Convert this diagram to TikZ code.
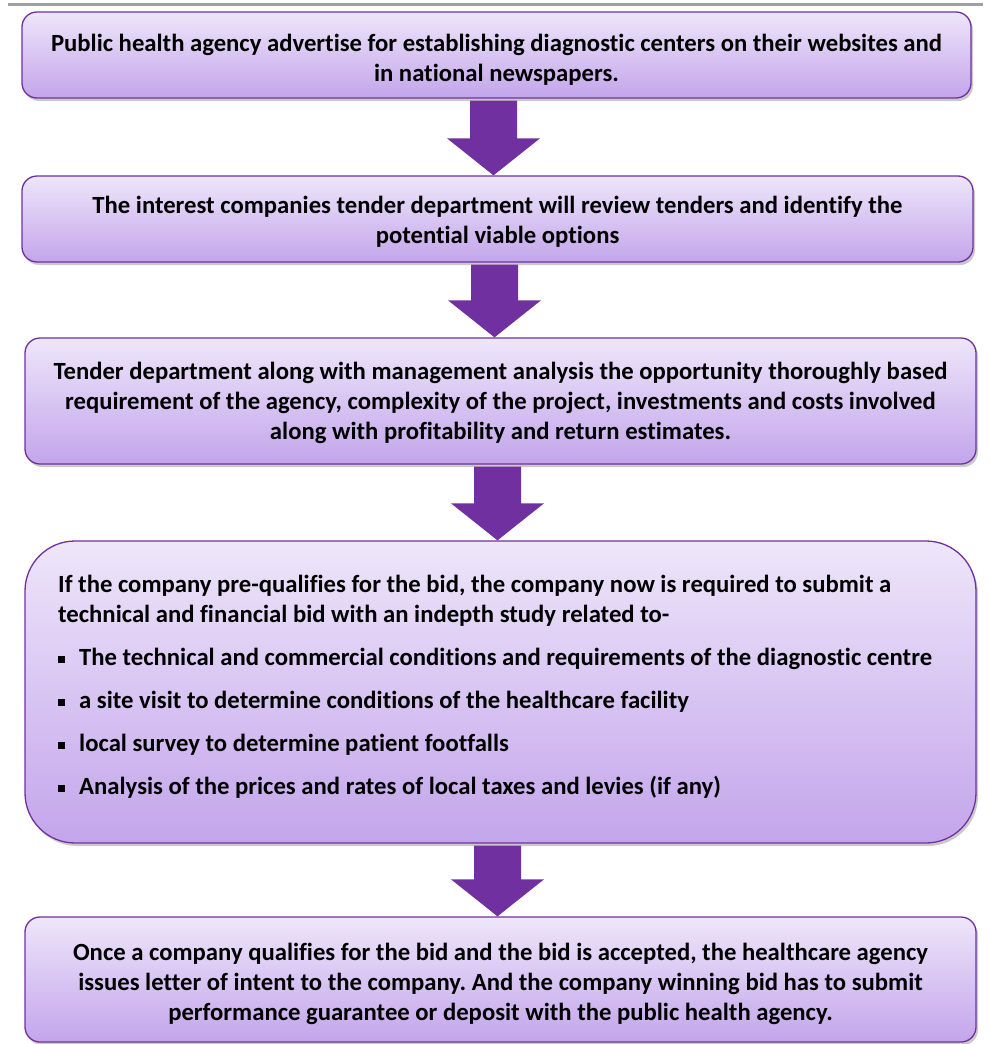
\documentclass[tikz,border=0pt]{standalone}
\usepackage{fontspec}
\setmainfont{Carlito}[Ligatures=NoCommon]
\usetikzlibrary{shadows,calc}
\frenchspacing
\definecolor{purpleline}{HTML}{7030A0}
\definecolor{boxtop}{HTML}{EEE6FA}
\definecolor{boxbot}{HTML}{C3A5EB}
\definecolor{rulegray}{HTML}{A0A0A0}
\tikzset{
  flowbox/.style={draw=purpleline, line width=1.3pt, rounded corners=15pt,
    top color=boxtop, bottom color=boxbot,
    drop shadow={shadow xshift=2pt, shadow yshift=-3pt, opacity=0.35, fill=black!60},
    inner sep=0pt, align=center},
  boxtext/.style={inner sep=0pt, font=\bfseries\fontsize{24.7}{30}\selectfont, align=center},
  bodytext/.style={inner sep=0pt, font=\bfseries\fontsize{24.7}{30}\selectfont, align=left, anchor=north west},
  arrowfill/.style={fill=purpleline}
}
\newcommand\bigdownarrow[2]{%
  \fill[arrowfill] let \p1=(#1.south), \p2=(#2.north) in
    (\x1-26.5pt,\y1-2pt) -- (\x1+20.5pt,\y1-2pt) -- (\x1+20.5pt,\y2+37pt)
    -- (\x1+43.5pt,\y2+37pt) -- (\x1-3pt,\y2) -- (\x1-49.5pt,\y2+37pt)
    -- (\x1-26.5pt,\y2+37pt) -- cycle;}
\newcommand\sqbullet{\raisebox{3pt}{\rule{7pt}{7pt}}\hspace{14pt}}
\begin{document}
\begin{tikzpicture}[x=1pt,y=-1pt]
\useasboundingbox (0,0) rectangle (990,1044);
\draw[rulegray, line width=3pt] (8,4.5) -- (983,4.5);

\node[flowbox, minimum width=949pt, minimum height=86pt] (b1) at (496.5,55) {};
\node[boxtext] (t1) at (496.5,60)
  {Public health agency advertise for establishing diagnostic centers on their websites and\\ in national newspapers.};
\node[flowbox, minimum width=951pt, minimum height=86pt] (b2) at (497.5,219) {};
\node[boxtext] (t2) at (497.5,222)
  {The interest companies tender department will review tenders and identify the\\ potential viable options};
\node[flowbox, minimum width=951pt, minimum height=126pt] (b3) at (500.5,401) {};
\node[boxtext] (t3) at (500.5,403)
  {Tender department along with management analysis the opportunity thoroughly based\\ requirement of the agency, complexity of the project, investments and costs involved\\ along with profitability and return estimates.};
\node[flowbox, rounded corners=50pt, minimum width=951pt, minimum height=302pt] (b4) at (500.5,692) {};
\node[bodytext] (t4) at (58,575)
  {If the company pre-qualifies for the bid, the company now is required to submit a\\
   technical and financial bid with an indepth study related to-\\[13pt]
   \sqbullet The technical and commercial conditions and requirements of the diagnostic centre\\[13pt]
   \sqbullet a site visit to determine conditions of the healthcare facility\\[13pt]
   \sqbullet local survey to determine patient footfalls\\[13pt]
   \sqbullet Analysis of the prices and rates of local taxes and levies (if any)};
\node[flowbox, minimum width=951pt, minimum height=125pt] (b5) at (500.5,979.5) {};
\node[boxtext] (t5) at (500.5,984)
  {Once a company qualifies for the bid and the bid is accepted, the healthcare agency\\ issues letter of intent to the company. And the company winning bid has to submit\\ performance guarantee or deposit with the public health agency.};

\bigdownarrow{b1}{b2}
\bigdownarrow{b2}{b3}
\bigdownarrow{b3}{b4}
\bigdownarrow{b4}{b5}
\end{tikzpicture}
\end{document}
